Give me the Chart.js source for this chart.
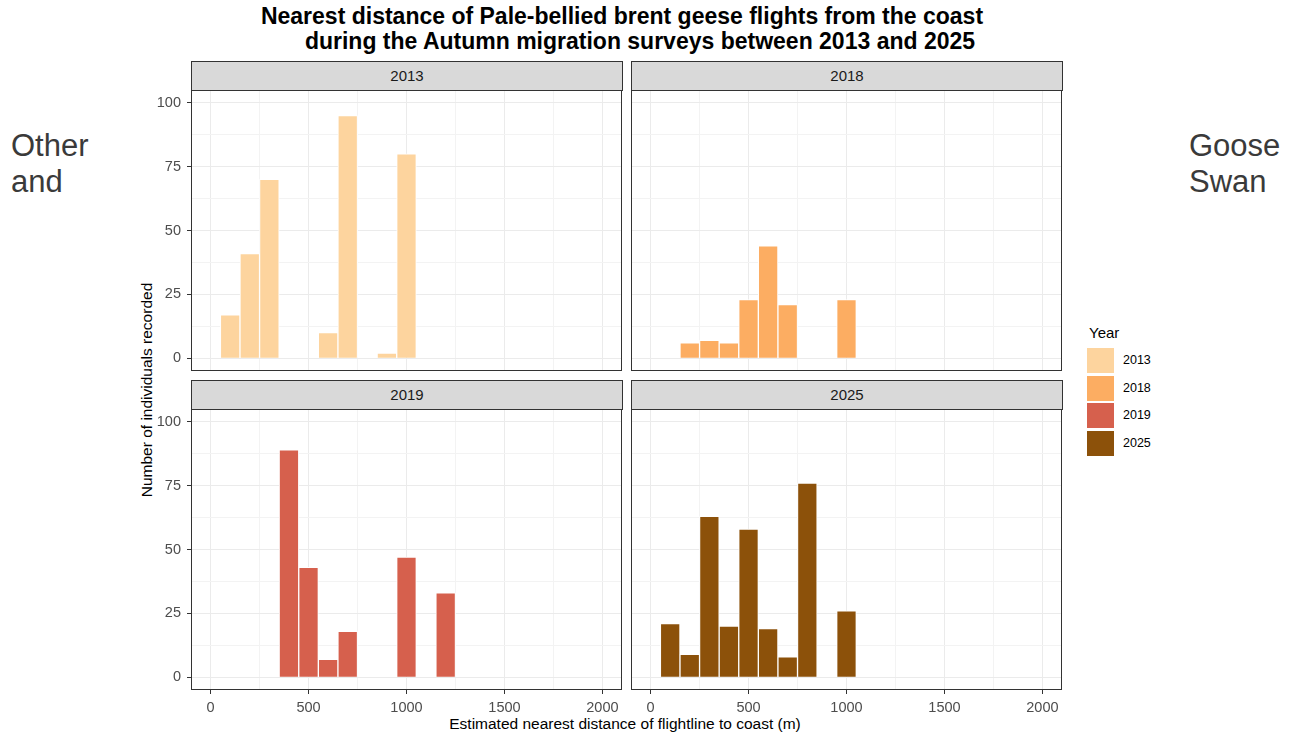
<!DOCTYPE html>
<html>
<head>
<meta charset="utf-8">
<title>Nearest distance of Pale-bellied brent geese flights from the coast</title>
<script src="https://cdn.jsdelivr.net/npm/chart.js@4.4.1/dist/chart.umd.min.js"></script>
<style>
  body { margin: 0; background: #ffffff; font-family: "Liberation Sans", Arial, sans-serif; }
  #page { position: relative; width: 1298px; height: 737px; overflow: hidden; background: #ffffff; }
  .abs { position: absolute; }
  .title { font-weight: bold; font-size: 23px; line-height: 25px; color: #000; white-space: nowrap; text-align: center; width: 1000px; }
  .side { font-size: 31px; line-height: 36px; color: #3a3a3a; }
  .strip { background: #d9d9d9; border: 1px solid #333333; box-sizing: border-box; text-align: center;
           font-size: 15px; line-height: 28px; color: #1a1a1a; }
  .axis-title { font-size: 15.5px; line-height: 18px; color: #000; text-align: center; white-space: nowrap; }
  canvas { position: absolute; }
  .legend-title { font-size: 15px; color: #000; }
  .key { position: absolute; width: 27px; height: 25px; }
  .key-label { position: absolute; font-size: 12.5px; line-height: 25px; color: #000; }
</style>
</head>
<body>
<div id="page">
  <div class="abs title" style="left:122px; top:4px;">Nearest distance of Pale-bellied brent geese flights from the coast</div>
  <div class="abs title" style="left:140px; top:29px;">during the Autumn migration surveys between 2013 and 2025</div>

  <div class="abs side" style="left:11px; top:128px;">Other<br>and</div>
  <div class="abs side" style="left:1189px; top:128px;">Goose<br>Swan</div>

  <div class="abs axis-title" style="left:-3px; top:381px; width:300px; height:18px; transform: rotate(-90deg); transform-origin: 150px 9px;">Number of individuals recorded</div>
  <div class="abs axis-title" style="left:325px; top:715px; width:600px;">Estimated nearest distance of flightline to coast (m)</div>

  <div id="legend" class="abs" style="left:1087px; top:321px; width:120px; height:140px;"></div>
</div>

<script>
// Histogram bins (bin centres, metres) and individuals counted in each bin per survey year.
const binCentres = [100, 200, 300, 400, 500, 600, 700, 800, 900, 1000, 1100, 1200];
const count2013 = [17, 41, 70, null, null, 10, 95, null, 2, 80, null, null];
const count2018 = [null, 6, 7, 6, 23, 44, 21, null, null, 23, null, null];
const count2019 = [null, null, null, 89, 43, 7, 18, null, null, 47, null, 33];
const count2025 = [21, 9, 63, 20, 58, 19, 8, 76, null, 26, null, null];

const years = ['2013', '2018', '2019', '2025'];
const yearCounts = [count2013, count2018, count2019, count2025];
const yearColours = ['#fdd49e', '#fcad62', '#d6604d', '#8c510a'];

// Axis ticks: labelled major ticks and unlabelled minor grid positions.
const xMajorTicks = [0, 500, 1000, 1500, 2000];
const xMinorTicks = [250, 750, 1250, 1750];
const yMajorTicks = [0, 25, 50, 75, 100];
const yMinorTicks = [12.5, 37.5, 62.5, 87.5];

Chart.defaults.font.family = '"Liberation Sans", Arial, sans-serif';

// Facet layout: plot-area box of each panel on the page.
const PLOT_W = 431, PLOT_H = 281;
const AXIS_W = 45, AXIS_H = 30, PAD_TOP = 20, PAD_RIGHT = 10;
const panels = [
  { year: 0, left: 191, top: 90,  showX: false, showY: true  },
  { year: 1, left: 631, top: 90,  showX: false, showY: false },
  { year: 2, left: 191, top: 409, showX: true,  showY: true  },
  { year: 3, left: 631, top: 409, showX: true,  showY: false }
];

// Rectangle around each panel's plotting area.
const panelFrame = {
  id: 'panelFrame',
  afterDraw(chart) {
    const { ctx, chartArea: a } = chart;
    ctx.save();
    ctx.strokeStyle = '#333333';
    ctx.lineWidth = 1;
    ctx.strokeRect(a.left + 0.5, a.top + 0.5, a.right - a.left - 1, a.bottom - a.top - 1);
    ctx.restore();
  }
};

function tickList(major, minor) {
  return major.concat(minor).sort((a, b) => a - b).map(v => ({ value: v }));
}

const page = document.getElementById('page');

panels.forEach(p => {
  const canvas = document.createElement('canvas');
  const w = PLOT_W + AXIS_W + PAD_RIGHT;
  const h = PLOT_H + PAD_TOP + AXIS_H;
  canvas.width = w;
  canvas.height = h;
  canvas.style.left = (p.left - AXIS_W) + 'px';
  canvas.style.top = (p.top - PAD_TOP) + 'px';
  canvas.style.width = w + 'px';
  canvas.style.height = h + 'px';
  page.appendChild(canvas);

  const counts = yearCounts[p.year];
  const points = [];
  binCentres.forEach((c, i) => { if (counts[i] !== null) points.push({ x: c, y: counts[i] }); });

  new Chart(canvas, {
    type: 'bar',
    data: {
      datasets: [{
        label: years[p.year],
        data: points,
        backgroundColor: yearColours[p.year],
        borderColor: '#ffffff',
        borderWidth: 1,
        borderSkipped: 'start',
        barPercentage: 1,
        categoryPercentage: 1
      }]
    },
    options: {
      responsive: false,
      maintainAspectRatio: false,
      animation: false,
      devicePixelRatio: 1,
      layout: {
        padding: { left: p.showY ? 0 : AXIS_W, top: PAD_TOP, right: PAD_RIGHT, bottom: p.showX ? 0 : AXIS_H }
      },
      plugins: { legend: { display: false }, tooltip: { enabled: false }, title: { display: false } },
      scales: {
        x: {
          type: 'linear',
          min: -100,
          max: 2100,
          offset: false,
          afterBuildTicks: s => { s.ticks = tickList(xMajorTicks, xMinorTicks); },
          afterFit: s => { s.height = p.showX ? AXIS_H : 0; },
          border: { display: false },
          grid: {
            offset: false,
            drawTicks: p.showX,
            tickLength: 4,
            color: c => xMajorTicks.includes(c.tick && c.tick.value) ? '#ebebeb' : '#f3f3f3',
            tickColor: c => xMajorTicks.includes(c.tick && c.tick.value) ? '#333333' : 'rgba(0,0,0,0)',
            lineWidth: 1
          },
          ticks: {
            display: p.showX,
            autoSkip: false,
            maxRotation: 0,
            padding: 5,
            color: '#4d4d4d',
            font: { size: 14.5 },
            callback: v => xMajorTicks.includes(v) ? String(v) : ''
          }
        },
        y: {
          type: 'linear',
          min: -5,
          max: 105,
          afterBuildTicks: s => { s.ticks = tickList(yMajorTicks, yMinorTicks); },
          afterFit: s => { s.width = p.showY ? AXIS_W : 0; },
          border: { display: false },
          grid: {
            drawTicks: p.showY,
            tickLength: 4,
            color: c => yMajorTicks.includes(c.tick && c.tick.value) ? '#ebebeb' : '#f3f3f3',
            tickColor: c => yMajorTicks.includes(c.tick && c.tick.value) ? '#333333' : 'rgba(0,0,0,0)',
            lineWidth: 1
          },
          ticks: {
            display: p.showY,
            autoSkip: false,
            padding: 6,
            color: '#4d4d4d',
            font: { size: 14.5 },
            callback: v => yMajorTicks.includes(v) ? String(v) : ''
          }
        }
      }
    },
    plugins: [panelFrame]
  });

  // Facet strip with the year label.
  const strip = document.createElement('div');
  strip.className = 'abs strip';
  strip.style.left = p.left + 'px';
  strip.style.top = (p.top - 29) + 'px';
  strip.style.width = (PLOT_W + 1) + 'px';
  strip.style.height = '30px';
  strip.textContent = years[p.year];
  page.appendChild(strip);
});

// Shared legend for the fill colours.
const legend = document.getElementById('legend');
const lt = document.createElement('div');
lt.className = 'legend-title abs';
lt.style.left = '2px';
lt.style.top = '3px';
lt.textContent = 'Year';
legend.appendChild(lt);
const keyTops = [27, 55, 82, 110];
years.forEach((y, i) => {
  const k = document.createElement('div');
  k.className = 'key';
  k.style.left = '0px';
  k.style.top = keyTops[i] + 'px';
  k.style.background = yearColours[i];
  legend.appendChild(k);
  const l = document.createElement('div');
  l.className = 'key-label';
  l.style.left = '36px';
  l.style.top = keyTops[i] + 'px';
  l.textContent = y;
  legend.appendChild(l);
});
</script>
</body>
</html>
